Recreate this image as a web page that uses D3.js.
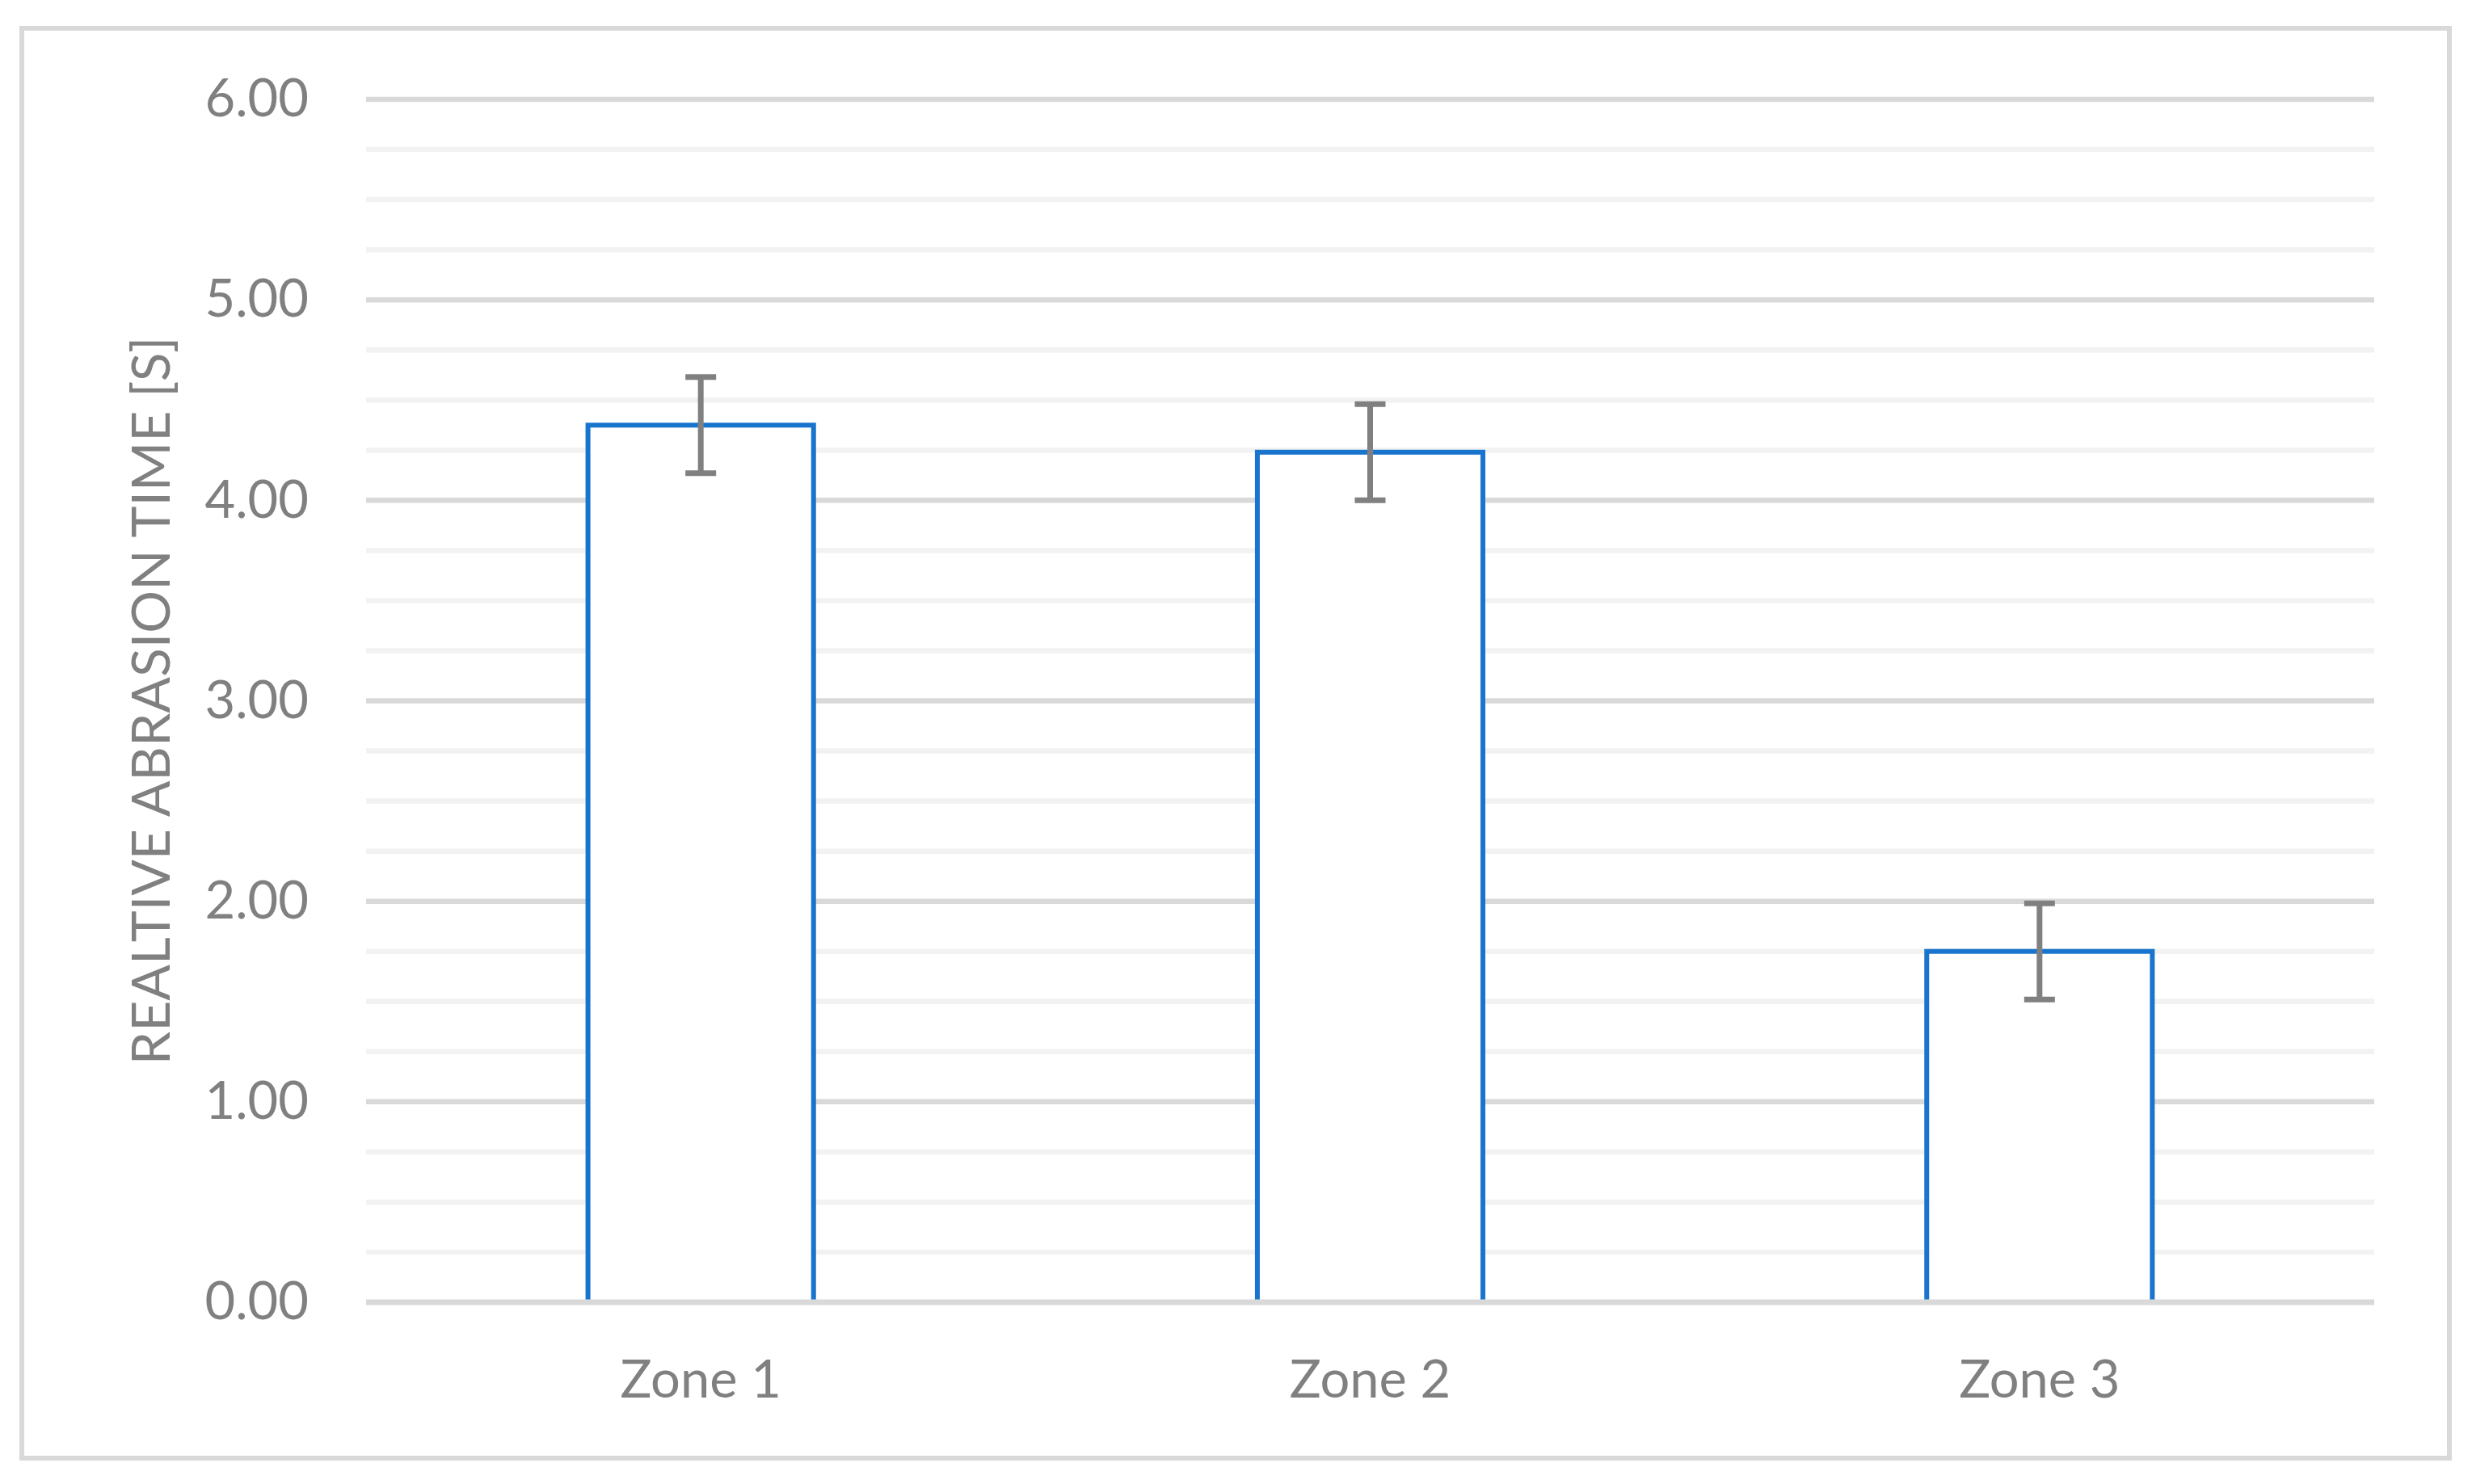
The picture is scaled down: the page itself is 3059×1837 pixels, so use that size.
<!DOCTYPE html>
<html>
<head>
<meta charset="utf-8">
<script src="https://cdn.jsdelivr.net/npm/d3@7"></script>
<style>
  html, body { margin: 0; padding: 0; background: #ffffff; }
  svg { display: block; }
  text { font-family: Lato, "Noto Sans", sans-serif; fill: #808080; }
</style>
</head>
<body>
<svg id="chart" width="3059" height="1837"></svg>
<script>
const categories = ["Zone 1", "Zone 2", "Zone 3"];
const values = [4.375, 4.24, 1.75];
const errors = [0.24, 0.24, 0.24];
const yTicks = [0, 1, 2, 3, 4, 5, 6];
const minorStep = 0.25;
const yTitle = "REALTIVE ABRASION TIME [S]";

const W = 3059, H = 1837;
const plot = { left: 453, right: 2938, top: 123, bottom: 1612 };

const svg = d3.select("#chart");

svg.append("rect")
  .attr("x", 27).attr("y", 35)
  .attr("width", 3004).attr("height", 1770)
  .attr("fill", "#ffffff")
  .attr("stroke", "#d9d9d9").attr("stroke-width", 6);

const y = d3.scaleLinear().domain([0, 6]).range([plot.bottom, plot.top]);
const x = d3.scaleBand().domain(categories).range([plot.left, plot.right]).padding(0);
const barW = x.bandwidth() * 0.337;

// minor gridlines
const minor = d3.range(0, 6 + 1e-9, minorStep).filter(v => Math.abs(v - Math.round(v)) > 1e-6);
svg.append("g").selectAll("line").data(minor).join("line")
  .attr("x1", plot.left).attr("x2", plot.right)
  .attr("y1", d => y(d)).attr("y2", d => y(d))
  .attr("stroke", "#f2f2f2").attr("stroke-width", 6.5);

// major gridlines (except 0 which is the axis line drawn later)
svg.append("g").selectAll("line").data(yTicks.filter(d => d !== 0)).join("line")
  .attr("x1", plot.left).attr("x2", plot.right)
  .attr("y1", d => y(d)).attr("y2", d => y(d))
  .attr("stroke", "#d9d9d9").attr("stroke-width", 6.5);

// y axis labels
const yAxis = svg.append("g")
  .attr("transform", `translate(${plot.left},0)`)
  .call(d3.axisLeft(y).tickValues(yTicks).tickFormat(d3.format(".2f")).tickSize(0).tickPadding(71));
yAxis.select(".domain").remove();
yAxis.selectAll("text")
  .attr("font-family", "Lato, 'Noto Sans', sans-serif")
  .attr("font-size", 65)
  .attr("fill", "#808080");

// bars
svg.append("g").selectAll("rect").data(categories).join("rect")
  .attr("x", d => x(d) + x.bandwidth() / 2 - barW / 2)
  .attr("y", (d, i) => y(values[i]))
  .attr("width", barW)
  .attr("height", (d, i) => y(0) - y(values[i]))
  .attr("fill", "#ffffff")
  .attr("stroke", "#1874cd").attr("stroke-width", 6);

// x axis line
svg.append("line")
  .attr("x1", plot.left).attr("x2", plot.right)
  .attr("y1", y(0)).attr("y2", y(0))
  .attr("stroke", "#d9d9d9").attr("stroke-width", 7);

// error bars
const eb = svg.append("g").attr("stroke", "#808080").attr("stroke-width", 7);
categories.forEach((c, i) => {
  const cx = x(c) + x.bandwidth() / 2;
  const hi = y(values[i] + errors[i]), lo = y(values[i] - errors[i]);
  eb.append("line").attr("x1", cx).attr("x2", cx).attr("y1", hi).attr("y2", lo);
  eb.append("line").attr("x1", cx - 19).attr("x2", cx + 19).attr("y1", hi).attr("y2", hi);
  eb.append("line").attr("x1", cx - 19).attr("x2", cx + 19).attr("y1", lo).attr("y2", lo);
});

// x axis labels
const xAxis = svg.append("g")
  .attr("transform", `translate(0,${plot.bottom})`)
  .call(d3.axisBottom(x).tickSize(0));
xAxis.select(".domain").remove();
xAxis.selectAll("text")
  .attr("y", 118).attr("dy", 0)
  .attr("font-family", "Lato, 'Noto Sans', sans-serif")
  .attr("font-size", 65)
  .attr("fill", "#808080");

// y title
svg.append("text")
  .attr("transform", `translate(210,${(plot.top + plot.bottom) / 2}) rotate(-90)`)
  .attr("text-anchor", "middle")
  .attr("font-size", 66)
  .text(yTitle);
</script>
</body>
</html>
